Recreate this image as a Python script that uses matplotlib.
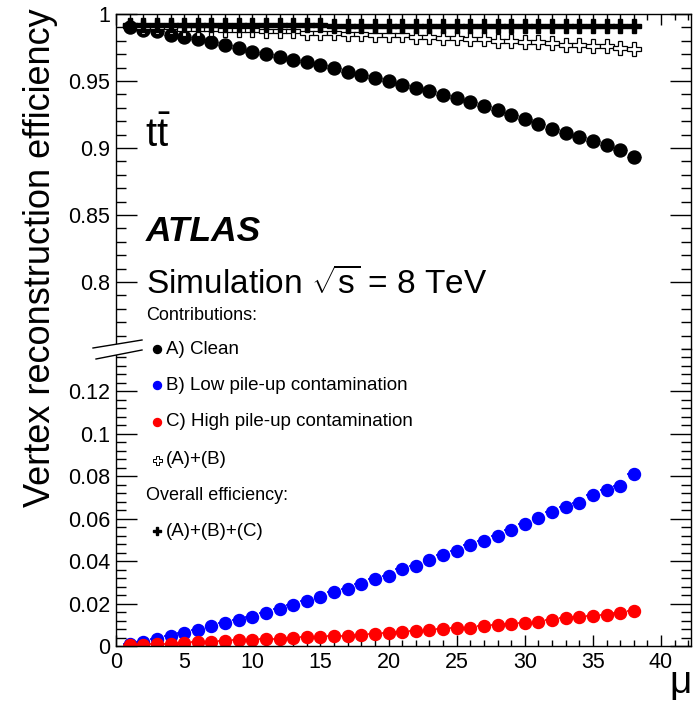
import numpy as np
import matplotlib
matplotlib.use('Agg')
import matplotlib.pyplot as plt
from matplotlib.lines import Line2D
from matplotlib.patches import Polygon
from matplotlib.ticker import MultipleLocator, FuncFormatter

plt.rcParams['font.family'] = ['Liberation Sans', 'DejaVu Sans']
plt.rcParams['mathtext.fontset'] = 'custom'
plt.rcParams['mathtext.rm'] = 'Liberation Sans'
plt.rcParams['mathtext.it'] = 'Liberation Sans:italic'

mu = np.arange(1, 39)

eff_clean = [0.990, 0.988, 0.987, 0.984, 0.983, 0.981, 0.979, 0.977, 0.975, 0.972,
             0.970, 0.968, 0.966, 0.964, 0.962, 0.9595, 0.957, 0.9545, 0.952, 0.950,
             0.947, 0.945, 0.9425, 0.9395, 0.937, 0.934, 0.931, 0.928, 0.925, 0.9215,
             0.918, 0.9145, 0.9115, 0.9085, 0.905, 0.902, 0.8985, 0.893]
eff_low = [0.001, 0.002, 0.0033, 0.0049, 0.006, 0.0076, 0.0092, 0.011, 0.0123, 0.0139,
           0.0155, 0.0176, 0.0194, 0.021, 0.0231, 0.0253, 0.0269, 0.029, 0.0314, 0.0332,
           0.0361, 0.0378, 0.0404, 0.0427, 0.0447, 0.0474, 0.0494, 0.0518, 0.0548, 0.0575,
           0.0605, 0.0630, 0.0653, 0.0672, 0.0714, 0.0736, 0.0755, 0.081]
eff_high = [0.0003, 0.0006, 0.0008, 0.0011, 0.0014, 0.0017, 0.0020, 0.0023, 0.0026, 0.0029,
            0.0032, 0.0035, 0.0038, 0.0041, 0.0044, 0.0046, 0.0049, 0.0052, 0.0055, 0.0062,
            0.0066, 0.0071, 0.0076, 0.0079, 0.0084, 0.0087, 0.0094, 0.0099, 0.0104, 0.0110,
            0.0115, 0.0122, 0.0130, 0.0138, 0.0142, 0.0147, 0.0155, 0.0167]
eff_ab = [0.991, 0.990, 0.990, 0.990, 0.989, 0.989, 0.989, 0.988, 0.988, 0.988,
          0.987, 0.987, 0.987, 0.986, 0.986, 0.986, 0.985, 0.985, 0.984, 0.984,
          0.984, 0.983, 0.983, 0.982, 0.982, 0.981, 0.981, 0.980, 0.980, 0.979,
          0.979, 0.978, 0.977, 0.977, 0.976, 0.976, 0.975, 0.974]
eff_abc = [0.9918, 0.9918, 0.9917, 0.9917, 0.9917, 0.9916, 0.9916, 0.9916, 0.9916, 0.9915,
           0.9915, 0.9915, 0.9915, 0.9915, 0.9915, 0.9914, 0.9914, 0.9914, 0.9914, 0.9914,
           0.9914, 0.9913, 0.9913, 0.9913, 0.9913, 0.9913, 0.9913, 0.9912, 0.9912, 0.9912,
           0.9912, 0.9912, 0.9912, 0.9911, 0.9911, 0.9911, 0.9911, 0.9911]

W, H = 700, 701
fig = plt.figure(figsize=(7, 7.01), dpi=100)

def fx(px):
    return px / W

def fy(py):
    return 1 - py / H

left, right = 116, 691
top, mid, bot = 14, 349, 646
ax_up = fig.add_axes([fx(left), fy(mid), fx(right - left), fy(top) - fy(mid)])
ax_lo = fig.add_axes([fx(left), fy(bot), fx(right - left), fy(mid) - fy(bot)])

def pt(px):
    return px * 72.0 / 100

for ax in (ax_up, ax_lo):
    ax.errorbar(mu, eff_clean, xerr=0.5, fmt='o', color='black', ms=pt(13), elinewidth=0.8, capsize=0)
    ax.errorbar(mu, eff_low, xerr=0.5, fmt='o', color='blue', ms=pt(12), elinewidth=1.2, capsize=0)
    ax.errorbar(mu, eff_high, xerr=0.5, fmt='o', color='red', ms=pt(12), elinewidth=1.2, capsize=0)
    ax.errorbar(mu, eff_ab, xerr=0.5, fmt='P', mfc='white', mec='black', mew=0.9, color='black',
                ms=pt(14), elinewidth=0.8, capsize=0)
    ax.errorbar(mu, eff_abc, xerr=0.5, fmt='P', color='black', ms=pt(14), elinewidth=1.5, capsize=0)
    ax.set_xlim(0, 42.2)
    ax.xaxis.set_major_locator(MultipleLocator(5))
    ax.xaxis.set_minor_locator(MultipleLocator(1))
    ax.tick_params(axis='both', which='both', direction='in', right=True, labelsize=15.5, width=1)
    ax.tick_params(axis='y', which='major', length=pt(21), pad=4)
    ax.tick_params(axis='y', which='minor', length=pt(10))
    ax.tick_params(axis='x', which='major', length=pt(11))
    ax.tick_params(axis='x', which='minor', length=pt(6))
    ax.yaxis.set_major_formatter(FuncFormatter(lambda v, p: '%g' % round(v, 4)))
    for s in ax.spines.values():
        s.set_linewidth(1)

ax_up.set_ylim(0.75, 1.0)
ax_up.yaxis.set_major_locator(MultipleLocator(0.05))
ax_up.yaxis.set_minor_locator(MultipleLocator(0.01))
ax_up.spines['bottom'].set_visible(False)
ax_up.tick_params(axis='x', which='both', top=True, bottom=False, labelbottom=False)
ax_up.set_yticks([0.8, 0.85, 0.9, 0.95, 1.0])

ax_lo.set_ylim(0, 0.14)
ax_lo.yaxis.set_major_locator(MultipleLocator(0.02))
ax_lo.yaxis.set_minor_locator(MultipleLocator(0.004))
ax_lo.spines['top'].set_visible(False)
ax_lo.tick_params(axis='x', which='both', top=False, pad=4)
ax_lo.set_yticks([0, 0.02, 0.04, 0.06, 0.08, 0.1, 0.12])

# axis break marks
fig.add_artist(Polygon([(fx(93), fy(348)), (fx(142), fy(340)), (fx(142), fy(350)), (fx(96), fy(359))],
                       closed=True, facecolor='white', edgecolor='none', zorder=5))
fig.add_artist(Line2D([fx(93), fx(142)], [fy(348), fy(340)], color='black', lw=1, zorder=6))
fig.add_artist(Line2D([fx(96), fx(142)], [fy(359), fy(350)], color='black', lw=1, zorder=6))

# axis titles
fig.text(fx(41), fy(8), 'Vertex reconstruction efficiency', rotation=90, ha='center', va='top', fontsize=26)
fig.text(fx(692), fy(701), '\u03bc', ha='right', va='bottom', fontsize=28)

# labels inside the frame
fig.text(fx(145), fy(136), r'$\mathrm{t\bar{t}}$', ha='left', va='center', fontsize=29)
fig.text(fx(146), fy(231), 'ATLAS', ha='left', va='center', fontsize=25.5, fontweight='bold', fontstyle='italic')
fig.text(fx(146), fy(284), r'Simulation $\sqrt{\mathrm{s}}$ = 8 TeV', ha='left', va='center', fontsize=24)

# legend
fig.text(fx(146), fy(315), 'Contributions:', ha='left', va='center', fontsize=13)
fig.text(fx(146), fy(495), 'Overall efficiency:', ha='left', va='center', fontsize=13)
entries = [
    (349, 'A) Clean', dict(marker='o', color='black', ms=pt(8))),
    (385, 'B) Low pile-up contamination', dict(marker='o', color='blue', ms=pt(8))),
    (422, 'C) High pile-up contamination', dict(marker='o', color='red', ms=pt(8))),
    (460, '(A)+(B)', dict(marker='P', mfc='white', mec='black', mew=0.7, ms=pt(9))),
    (531, '(A)+(B)+(C)', dict(marker='P', color='black', ms=pt(8))),
]
for ypx, label, style in entries:
    fig.add_artist(Line2D([fx(157)], [fy(ypx)], linestyle='none', zorder=6, **style))
    fig.text(fx(166), fy(ypx), label, ha='left', va='center', fontsize=13.5)

fig.savefig('out.png', dpi=100)
